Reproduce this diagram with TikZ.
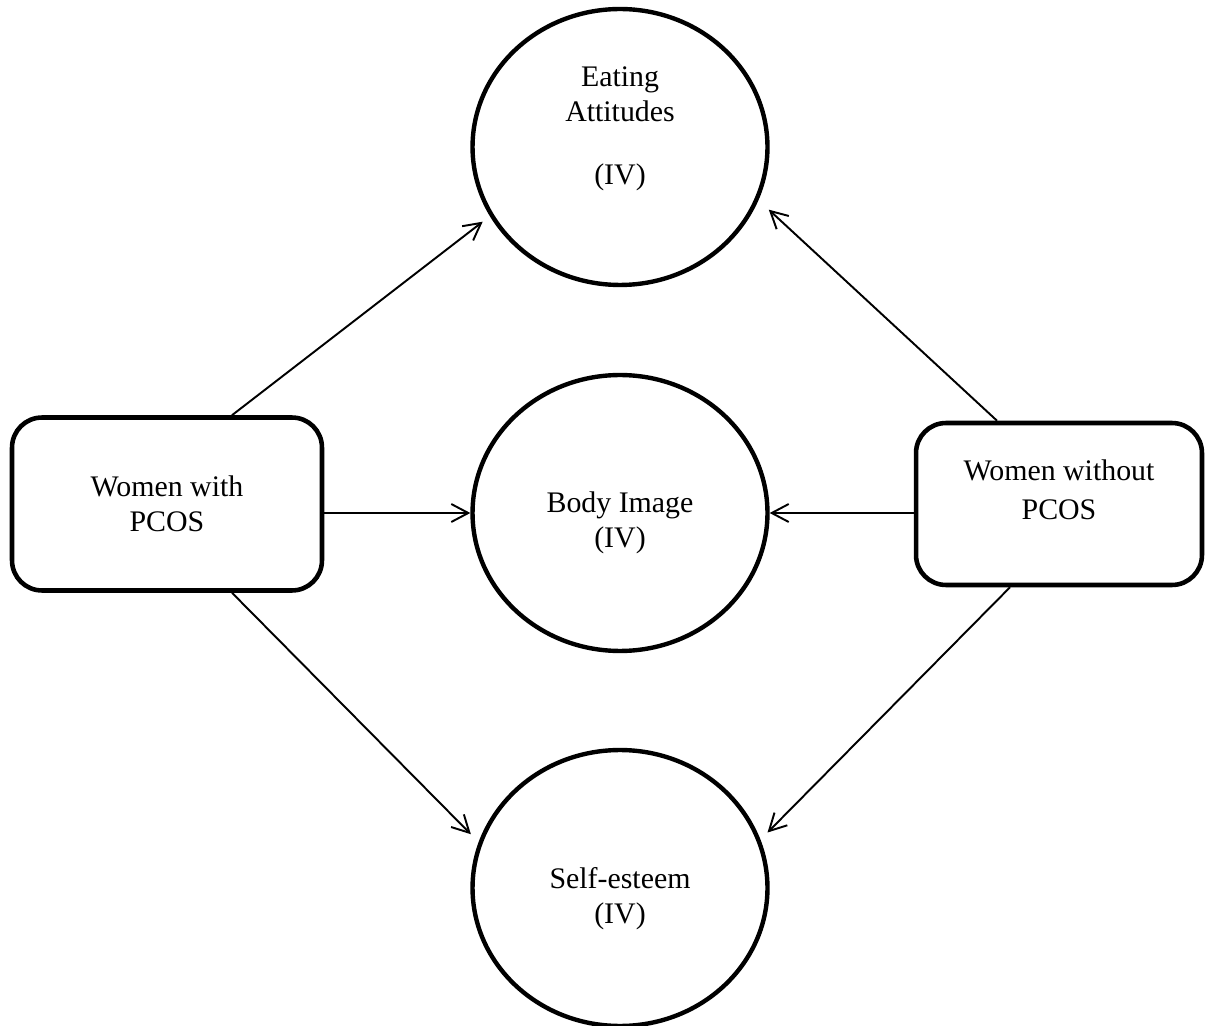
\documentclass[tikz,border=0pt]{standalone}
\usepackage{fontspec}
\setmainfont{Liberation Serif}
\usetikzlibrary{shapes.geometric,arrows.meta}
\begin{document}
\begin{tikzpicture}[x=0.02cm, y=-0.02cm,
    every node/.style={font=\fontsize{17}{20}\selectfont},
    var/.style={ellipse, draw, line width=2.5pt, minimum width=5.9cm, minimum height=5.52cm, inner sep=0pt},
    grp/.style={rectangle, draw, line width=2.6pt, rounded corners=0.6cm, align=center},
    lbl/.style={align=center},
    arr/.style={-{Straight Barb[length=0.34cm, width=0.36cm]}, line width=1.1pt}]
  \useasboundingbox (0,0) rectangle (1210,1026);
  % variables
  \node[var] (eat) at (620,147) {};
  \node[var] (body) at (620,513) {};
  \node[var] (self) at (620,888) {};
  \node[lbl] (eattxt) at (620,129) {Eating\\Attitudes\\[16pt](IV)};
  \node[lbl] (bodytxt) at (620,523) {Body Image\\(IV)};
  \node[lbl] (selftxt) at (620,899) {Self-esteem\\(IV)};
  % groups
  \node[grp, minimum width=6.2cm, minimum height=3.46cm] (pcos) at (167,504) {Women with\\PCOS};
  \node[grp, minimum width=5.72cm, minimum height=3.24cm] (nopcos) at (1059,504) {};
  \node[lbl] (nopcostxt) at (1059,490) {Women without\\[2pt]PCOS};
  % arrows
  \draw[arr, shorten >=0.18cm] ([xshift=1.3cm]pcos.north) -- (eat.208);
  \draw[arr] (pcos.east |- body.west) -- (body.west);
  \draw[arr, shorten >=0.22cm] ([xshift=1.3cm]pcos.south) -- (self.162);
  \draw[arr, shorten >=0.28cm] ([xshift=-1.24cm]nopcos.north) -- (eat.-21);
  \draw[arr] (nopcos.west |- body.east) -- (body.east);
  \draw[arr, shorten >=0.2cm] ([xshift=-0.98cm]nopcos.south) -- (self.19);
\end{tikzpicture}
\end{document}
